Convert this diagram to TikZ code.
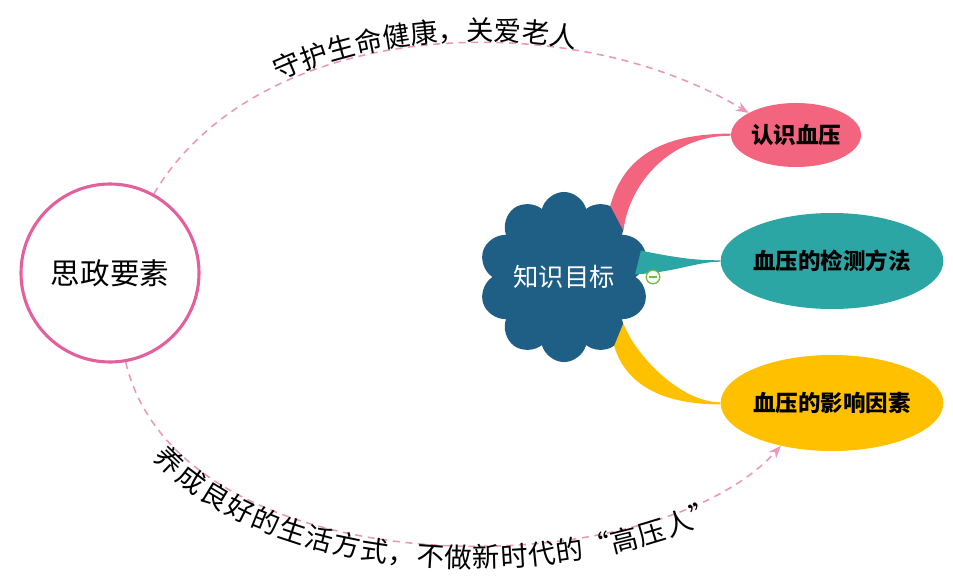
\documentclass[tikz,border=0pt]{standalone}
\usepackage{fontspec}
\setmainfont{Noto Sans CJK SC}
\usepackage{tikz}
\usetikzlibrary{arrows.meta,shapes.geometric,shapes.symbols,decorations.text}
\definecolor{szpink}{HTML}{E3609D}
\definecolor{linkpink}{HTML}{EC97BA}
\definecolor{cloudblue}{HTML}{1F5F86}
\definecolor{leafpink}{HTML}{F3647F}
\definecolor{leafteal}{HTML}{2CA6A5}
\definecolor{leafyellow}{HTML}{FFC000}
\definecolor{foldgreen}{HTML}{7AB648}
\tikzset{
  leaf/.style={ellipse, inner sep=0pt, font=\fontsize{16}{16}\selectfont\bfseries},
  link/.style={draw=linkpink, dashed, line width=1.1pt, dash pattern=on 5pt off 4pt, -{Stealth[length=9pt,width=7pt]}},
}
\newcommand{\arcfont}{\fontsize{19.5}{19.5}\selectfont}

\begin{document}
\begin{tikzpicture}
    \useasboundingbox (0,0) rectangle (23.825,14.625);

    \node[circle, draw=szpink, line width=2.2pt, minimum size=4.45cm, inner sep=0pt, font=\fontsize{21}{21}\selectfont] (sz) at (2.75,7.8) {思政要素};
    \node[cloud, cloud puffs=10, aspect=1, fill=cloudblue, minimum width=4.05cm, minimum height=4.05cm, inner sep=0pt, text=white, font=\fontsize{18}{18}\selectfont] (know) at (14.1,7.7) {知识目标};

    \node[leaf, fill=leafpink, minimum width=3.25cm, minimum height=1.6cm] (p1) at (19.9,11.25) {认识血压};
    \node[leaf, fill=leafteal, minimum width=5.05cm, minimum height=2.4cm] (p2) at (20.8,8.1) {血压的检测方法};
    \node[leaf, fill=leafyellow, minimum width=5.05cm, minimum height=2.4cm] (p3) at (20.8,4.55) {血压的影响因素};

    % ----- branches
    \fill[leafpink] (know.57) .. controls +(0.35,1.3) and +(-1.6,0) .. ([yshift=1pt]p1.west) -- ([yshift=-0.5pt]p1.west) .. controls +(-1.5,0) and +(0.15,1.2) .. (know.38) -- cycle;
    \fill[leafteal] ([xshift=-3pt]know.18) .. controls +(1.0,-0.2) and +(-0.6,0) .. ([yshift=0.5pt]p2.west) -- ([yshift=-0.5pt]p2.west) .. controls +(-0.6,0) and +(1.0,0.05) .. ([xshift=-3pt]know.2) -- cycle;
    \fill[leafyellow] (know.-38) .. controls +(0.3,-0.8) and +(-1.0,0) .. ([yshift=0.5pt]p3.west) -- ([yshift=-1pt]p3.west) .. controls +(-1.4,0) and +(0.3,-1.0) .. (know.-54) -- cycle;

    \node[circle, draw=foldgreen, fill=green!5, line width=0.9pt, minimum size=0.34cm, inner sep=0pt] (fold) at (16.325,7.7) {};
    \draw[foldgreen, line width=1.2pt] ([xshift=-3pt]fold.center) -- ([xshift=3pt]fold.center);

    % ----- links
    \draw[link] (sz.61) .. controls (6.5,14.25) and (14.25,14.5) .. (p1.155);
    \draw[link] (sz.-80) .. controls (4.5,-0.125) and (16.25,-0.125) .. (p3.220);

    \path[decorate, decoration={text along path, text={|\arcfont|守护生命健康，关爱老人}, text align={left indent=4.25cm}, raise=2pt}] (sz.61) .. controls (6.5,14.25) and (14.25,14.5) .. (p1.155);
    \path[decorate, decoration={text along path, text={|\arcfont|养成良好的生活方式，不做新时代的“高压人”}, text align={left indent=2.3cm}, raise=-16pt}] (sz.-80) .. controls (4.5,-0.125) and (16.25,-0.125) .. (p3.220);
\end{tikzpicture}
\end{document}
